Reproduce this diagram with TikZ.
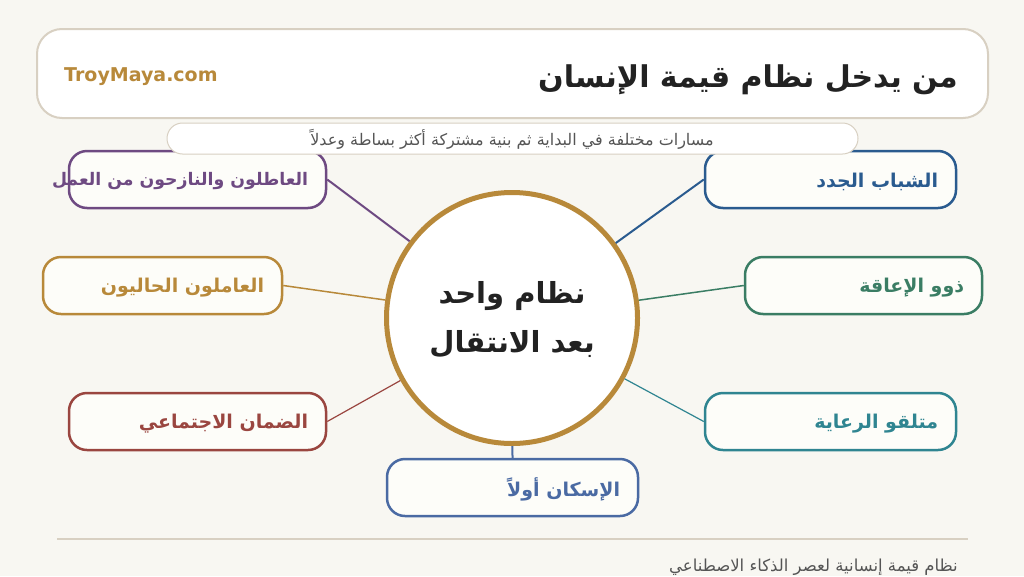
\documentclass[tikz,border=0pt]{standalone}
\usepackage{fontspec}
\usetikzlibrary{positioning}
\newfontfamily\arabicfont[Script=Arabic]{DejaVu Sans}
\setmainfont{DejaVu Sans}
\TeXXeTstate=1
\definecolor{canvas}{HTML}{F8F7F2}
\definecolor{rulecol}{HTML}{D8D0C2}
\definecolor{boxfill}{HTML}{FDFDF9}
\definecolor{gold}{HTML}{B8893A}
\definecolor{plum}{HTML}{6E4A82}
\definecolor{navy}{HTML}{2A5B8F}
\definecolor{moss}{HTML}{3A7D64}
\definecolor{teal}{HTML}{2F8591}
\definecolor{brick}{HTML}{9A4640}
\definecolor{slate}{HTML}{4A6AA3}
\definecolor{ink}{HTML}{222222}
\definecolor{greytext}{HTML}{555555}

\begin{document}
\begin{tikzpicture}[x=1pt,y=-1pt,
      leaf/.style={draw,rectangle,rounded corners=18pt,line width=2.5pt,fill=boxfill,
        minimum width=251pt,minimum height=57pt},
      tag/.style={anchor=east,inner sep=0pt,font=\arabicfont\bfseries\fontsize{19}{22}\selectfont}]
    \useasboundingbox[fill=canvas] (0,0) rectangle (1024,576);

    \node[draw=rulecol,line width=2pt,fill=white,rounded corners=25pt,
      minimum width=951pt,minimum height=89pt](head) at (512.5,73.5){};
    \node[anchor=west,inner sep=0pt,text=gold,font=\bfseries\fontsize{19}{22}\selectfont](site)
      at (64,77){TroyMaya.com};
    \node[anchor=east,inner sep=0pt,text=ink,font=\arabicfont\bfseries\fontsize{30}{34}\selectfont](title)
      at (958,80){\beginR من يدخل نظام قيمة الإنسان\endR};

    \node[circle,draw=gold,line width=5pt,fill=white,minimum size=251pt](core) at (512,318){};

    \node[leaf,draw=plum,minimum width=257pt](n1) at (197.5,179.5){};
    \node[leaf,draw=gold,minimum width=239pt](n2) at (162.5,285.5){};
    \node[leaf,draw=brick,minimum width=257pt](n3) at (197.5,421.5){};
    \node[leaf,draw=navy](n4) at (830.5,179.5){};
    \node[leaf,draw=moss,minimum width=237pt](n5) at (863.5,285.5){};
    \node[leaf,draw=teal](n6) at (830.5,421.5){};
    \node[leaf,draw=slate](n7) at (512.5,487.5){};

    \draw[plum,line width=2pt] (n1.east) -- (core);
    \draw[gold,line width=1.5pt] (n2.east) -- (core);
    \draw[brick,line width=1.2pt] (n3.east) -- (core);
    \draw[navy,line width=2pt] (n4.west) -- (core);
    \draw[moss,line width=1.5pt] (n5.west) -- (core);
    \draw[teal,line width=1.2pt] (n6.west) -- (core);
    \draw[slate,line width=2pt] (n7.north) -- (core);

    \node[tag,text=plum,font=\arabicfont\bfseries\fontsize{17.3}{20}\selectfont](t1)
      at ([xshift=-19pt,yshift=-2pt]n1.east){\beginR العاطلون والنازحون من العمل\endR};
    \node[tag,text=gold](t2) at ([xshift=-19pt,yshift=-2pt]n2.east){\beginR العاملون الحاليون\endR};
    \node[tag,text=brick](t3) at ([xshift=-19pt,yshift=-2pt]n3.east){\beginR الضمان الاجتماعي\endR};
    \node[tag,text=navy](t4) at ([xshift=-19pt,yshift=-2pt]n4.east){\beginR الشباب الجدد\endR};
    \node[tag,text=moss](t5) at ([xshift=-19pt,yshift=-2pt]n5.east){\beginR ذوو الإعاقة\endR};
    \node[tag,text=teal](t6) at ([xshift=-19pt,yshift=-2pt]n6.east){\beginR متلقو الرعاية\endR};
    \node[tag,text=slate](t7) at ([xshift=-19pt,yshift=-2pt]n7.east){\beginR الإسكان أولاً\endR};

    \node[align=center,text=ink,font=\arabicfont\bfseries\fontsize{29}{49}\selectfont](coretxt)
      at (512,320){\beginR نظام واحد\endR\\\beginR بعد الانتقال\endR};

    \node[draw=rulecol,line width=1pt,fill=white,rounded corners=15.5pt,
      minimum width=691pt,minimum height=31pt](sub) at (512.5,138.5){};
    \node[inner sep=0pt,text=greytext,font=\arabicfont\fontsize{16}{19}\selectfont](subtxt)
      at (512,139){\beginR مسارات مختلفة في البداية ثم بنية مشتركة أكثر بساطة وعدلاً\endR};

    \draw[rulecol,line width=2pt] (57,539) -- (968,539);
    \node[anchor=east,inner sep=0pt,text=greytext,font=\arabicfont\fontsize{16.5}{19}\selectfont](foot)
      at (958,567){\beginR نظام قيمة إنسانية لعصر الذكاء الاصطناعي\endR};
\end{tikzpicture}
\end{document}
